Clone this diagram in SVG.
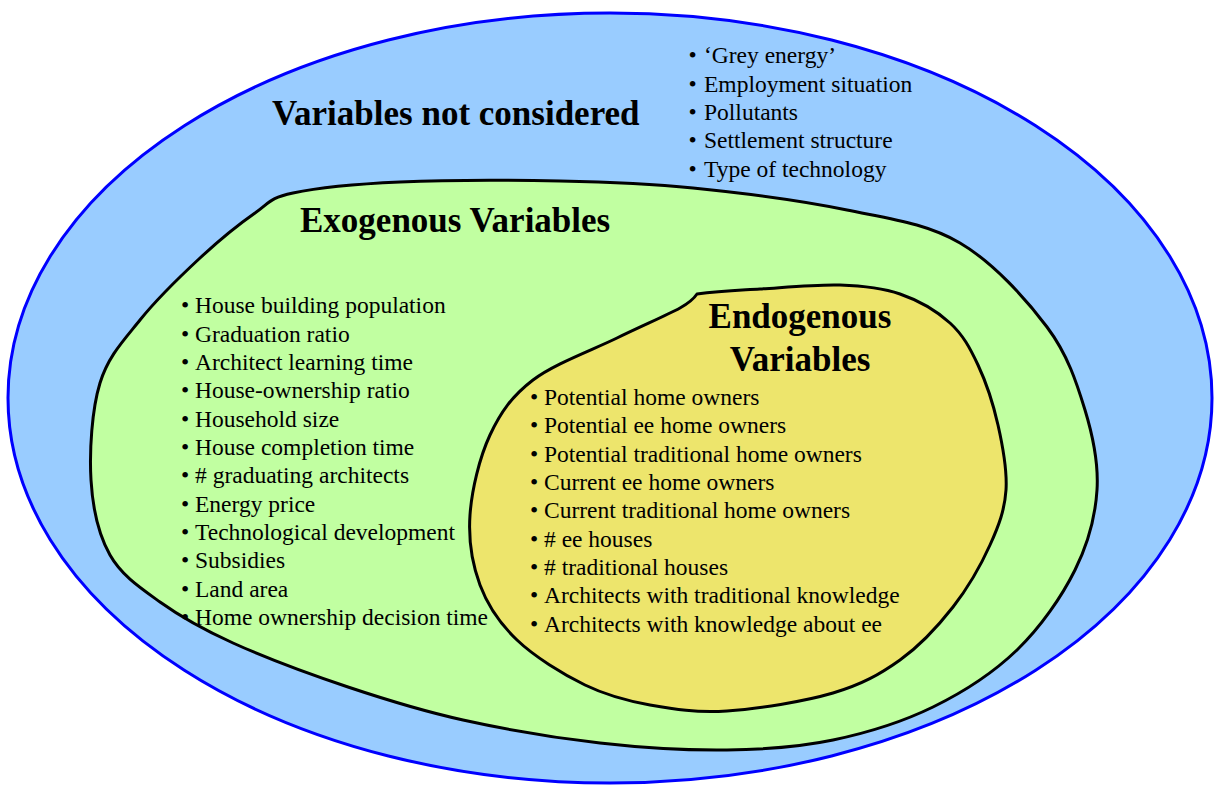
<svg xmlns="http://www.w3.org/2000/svg" width="1215" height="785" viewBox="0 0 1215 785">
  <style>
    .title { font-family: "Liberation Serif", "Times New Roman", serif; font-weight: bold; font-size: 35px; fill: #000; }
    .item { font-family: "Liberation Serif", "Times New Roman", serif; font-size: 23.5px; fill: #000; }
    .outline { stroke: #000; stroke-width: 3; stroke-linejoin: round; }
  </style>
  <rect width="1215" height="785" fill="#ffffff"/>

  <g id="not-considered">
    <ellipse cx="610" cy="398" rx="602" ry="385" fill="#99CCFF" stroke="#0000FF" stroke-width="3"/>
    <text class="title" x="272" y="125">Variables not considered</text>
    <text class="item"><tspan x="688.5" y="63">•</tspan><tspan x="704" y="63">‘Grey energy’</tspan></text>
    <text class="item"><tspan x="688.5" y="91.5">•</tspan><tspan x="704" y="91.5">Employment situation</tspan></text>
    <text class="item"><tspan x="688.5" y="120">•</tspan><tspan x="704" y="120">Pollutants</tspan></text>
    <text class="item"><tspan x="688.5" y="148.3">•</tspan><tspan x="704" y="148.3">Settlement structure</tspan></text>
    <text class="item"><tspan x="688.5" y="176.7">•</tspan><tspan x="704" y="176.7">Type of technology</tspan></text>
  </g>

  <g id="exogenous">
    <path class="outline" fill="#C1FFA1" d="M 293,193 C 317.2,187.8 355.5,184 400,182 C 444.5,180 511.2,180 560,181 C 608.8,182 645.2,183.2 693,188 C 740.8,192.8 802.5,200.8 847,210 C 891.5,219.2 926.7,223.5 960,243 C 993.3,262.5 1026.2,299.2 1047,327 C 1067.8,354.8 1076.7,382.8 1085,410 C 1093.3,437.2 1098.7,463.3 1097,490 C 1095.3,516.7 1088.3,543.3 1075,570 C 1061.7,596.7 1040.7,627.2 1017,650 C 993.3,672.8 963.7,692 933,707 C 902.3,722 867.3,732.8 833,740 C 798.7,747.2 765.8,749.5 727,750 C 688.2,750.5 644,748 600,743 C 556,738 505,729.3 463,720 C 421,710.7 386.3,699.8 348,687 C 309.7,674.2 264.3,657.2 233,643 C 201.7,628.8 180.5,616.7 160,602 C 139.5,587.3 121.5,575.3 110,555 C 98.5,534.7 92.7,508.7 91,480 C 89.3,451.3 91.8,409.7 100,383 C 108.2,356.3 123.3,340.8 140,320 C 156.7,299.2 180.8,275.8 200,258 C 219.2,240.2 239.5,223.8 255,213 C 270.5,202.2 268.8,198.2 293,193 Z"/>
    <text class="title" x="300" y="232">Exogenous Variables</text>
    <text class="item"><tspan x="181" y="313.3">•</tspan><tspan x="195" y="313.3">House building population</tspan></text>
    <text class="item"><tspan x="181" y="341.6">•</tspan><tspan x="195" y="341.6">Graduation ratio</tspan></text>
    <text class="item"><tspan x="181" y="370">•</tspan><tspan x="195" y="370">Architect learning time</tspan></text>
    <text class="item"><tspan x="181" y="398.3">•</tspan><tspan x="195" y="398.3">House-ownership ratio</tspan></text>
    <text class="item"><tspan x="181" y="426.6">•</tspan><tspan x="195" y="426.6">Household size</tspan></text>
    <text class="item"><tspan x="181" y="455">•</tspan><tspan x="195" y="455">House completion time</tspan></text>
    <text class="item"><tspan x="181" y="483.3">•</tspan><tspan x="195" y="483.3"># graduating architects</tspan></text>
    <text class="item"><tspan x="181" y="511.6">•</tspan><tspan x="195" y="511.6">Energy price</tspan></text>
    <text class="item"><tspan x="181" y="540">•</tspan><tspan x="195" y="540">Technological development</tspan></text>
    <text class="item"><tspan x="181" y="568.3">•</tspan><tspan x="195" y="568.3">Subsidies</tspan></text>
    <text class="item"><tspan x="181" y="596.6">•</tspan><tspan x="195" y="596.6">Land area</tspan></text>
    <text class="item"><tspan x="181" y="625">•</tspan><tspan x="195" y="625">Home ownership decision time</tspan></text>
  </g>

  <g id="endogenous">
    <path class="outline" fill="#EDE56C" d="M 697,294 C 720,291 736.2,290.5 760,289 C 783.8,287.5 816.7,284.2 840,285 C 863.3,285.8 881.7,287.7 900,294 C 918.3,300.3 937,311.2 950,323 C 963,334.8 970,348 978,365 C 986,382 993.3,404.2 998,425 C 1002.7,445.8 1007.3,470 1006,490 C 1004.7,510 998.8,525.5 990,545 C 981.2,564.5 968,587.8 953,607 C 938,626.2 920,645.7 900,660 C 880,674.3 861.8,684.5 833,693 C 804.2,701.5 757.5,709 727,711 C 696.5,713 673.7,709.3 650,705 C 626.3,700.7 607.2,695.8 585,685 C 562.8,674.2 534.5,656.7 517,640 C 499.5,623.3 487.8,605.8 480,585 C 472.2,564.2 468.3,540 470,515 C 471.7,490 479.5,457.5 490,435 C 500.5,412.5 511.8,396.2 533,380 C 554.2,363.8 592.5,350 617,338 C 641.5,326 666.7,315.3 680,308 C 688,303.5 693,300 697,294 Z"/>
    <text class="title" x="800" y="327.5" text-anchor="middle">Endogenous</text>
    <text class="title" x="800" y="370.5" text-anchor="middle">Variables</text>
    <text class="item"><tspan x="530" y="405">•</tspan><tspan x="544" y="405">Potential home owners</tspan></text>
    <text class="item"><tspan x="530" y="433.3">•</tspan><tspan x="544" y="433.3">Potential ee home owners</tspan></text>
    <text class="item"><tspan x="530" y="461.6">•</tspan><tspan x="544" y="461.6">Potential traditional home owners</tspan></text>
    <text class="item"><tspan x="530" y="490">•</tspan><tspan x="544" y="490">Current ee home owners</tspan></text>
    <text class="item"><tspan x="530" y="518.3">•</tspan><tspan x="544" y="518.3">Current traditional home owners</tspan></text>
    <text class="item"><tspan x="530" y="546.6">•</tspan><tspan x="544" y="546.6"># ee houses</tspan></text>
    <text class="item"><tspan x="530" y="575">•</tspan><tspan x="544" y="575"># traditional houses</tspan></text>
    <text class="item"><tspan x="530" y="603.3">•</tspan><tspan x="544" y="603.3">Architects with traditional knowledge</tspan></text>
    <text class="item"><tspan x="530" y="631.6">•</tspan><tspan x="544" y="631.6">Architects with knowledge about ee</tspan></text>
  </g>

  <g id="connectors"></g>
</svg>
